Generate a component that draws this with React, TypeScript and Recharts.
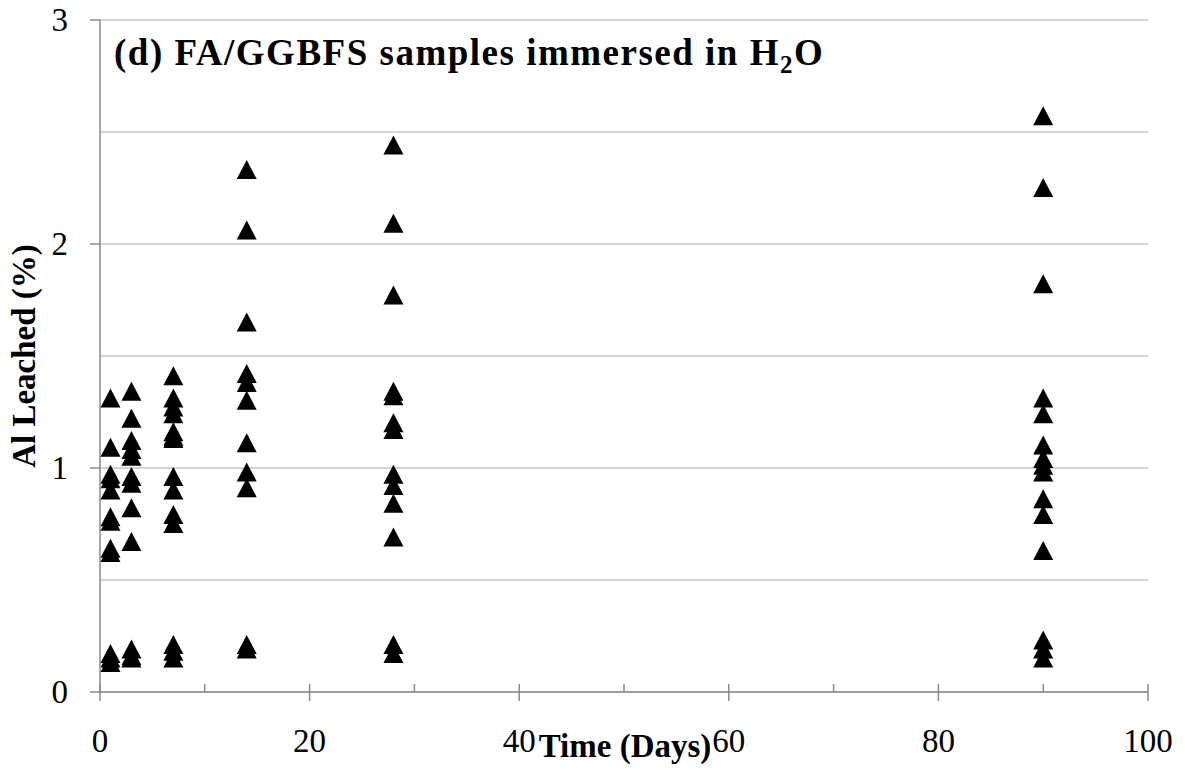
import React from 'react';
import { ScatterChart, Scatter, XAxis, YAxis, CartesianGrid } from 'recharts';

const SERIF = '"Liberation Serif", "Times New Roman", "DejaVu Serif", serif';

// sampling times (days)
const days = [1, 3, 7, 14, 28, 90];

// Al leached (%), one list per sampling time
const day1 = [1.31, 1.09, 0.97, 0.95, 0.9, 0.78, 0.76, 0.64, 0.62, 0.17, 0.15, 0.13];
const day3 = [1.34, 1.22, 1.12, 1.08, 1.05, 0.96, 0.93, 0.82, 0.67, 0.19, 0.16, 0.15];
const day7 = [1.41, 1.31, 1.27, 1.24, 1.16, 1.14, 1.13, 0.96, 0.9, 0.79, 0.75, 0.21, 0.18, 0.15];
const day14 = [2.33, 2.06, 1.65, 1.42, 1.38, 1.3, 1.11, 0.98, 0.91, 0.21, 0.19];
const day28 = [2.44, 2.09, 1.77, 1.34, 1.32, 1.2, 1.17, 0.97, 0.92, 0.84, 0.69, 0.21, 0.17];
const day90 = [2.57, 2.25, 1.82, 1.31, 1.24, 1.1, 1.04, 1.01, 0.98, 0.86, 0.79, 0.63, 0.23, 0.19, 0.15];

const leached = [day1, day3, day7, day14, day28, day90];

const xTicks = [0, 10, 20, 30, 40, 50, 60, 70, 80, 90, 100];
const yTicks = [0, 0.5, 1, 1.5, 2, 2.5, 3];

const points = days.flatMap((d, i) => leached[i].map((v) => ({ day: d, al: v })));

const txt = { fontFamily: SERIF, fill: '#000' };

const Triangle = (props: any) => {
  const { cx, cy } = props;
  if (cx == null || cy == null) return null;
  return <path d={`M${cx},${cy - 10} L${cx + 10},${cy + 9} L${cx - 10},${cy + 9} Z`} fill="#000" />;
};

// only integer values get a label and an outside tick mark
const YTick = (props: any) => {
  const { x, y, payload } = props;
  const v = payload.value;
  if (v % 1 !== 0) return <g />;
  return (
    <g>
      <line x1={x + 22} x2={x + 32} y1={y} y2={y} stroke="#8a8a8a" strokeWidth={1.5} />
      <text x={x} y={y + 11} textAnchor="end" style={{ ...txt, fontSize: 33 }}>
        {v}
      </text>
    </g>
  );
};

// major ticks cross the axis and are labelled, minor ticks sit inside
const XTick = (props: any) => {
  const { x, y, payload } = props;
  const v = payload.value;
  const axisY = y - 36;
  if (v % 20 !== 0) {
    return <line x1={x} x2={x} y1={axisY - 8} y2={axisY} stroke="#8a8a8a" strokeWidth={1.5} />;
  }
  return (
    <g>
      <line x1={x} x2={x} y1={axisY - 8} y2={axisY + 9} stroke="#8a8a8a" strokeWidth={1.5} />
      <text x={x} y={y + 24} textAnchor="middle" style={{ ...txt, fontSize: 33 }}>
        {v}
      </text>
    </g>
  );
};

const YLabel = (props: any) => {
  const vb = props.viewBox;
  const cx = vb.x + 35;
  const cy = vb.y + vb.height / 2;
  return (
    <text
      x={cx}
      y={cy}
      transform={`rotate(-90 ${cx} ${cy})`}
      textAnchor="middle"
      style={{ ...txt, fontSize: 33, fontWeight: 'bold' }}
    >
      Al Leached (%)
    </text>
  );
};

const XLabel = (props: any) => {
  const vb = props.viewBox;
  return (
    <text
      x={vb.x + vb.width / 2 + 1}
      y={vb.y + 65}
      textAnchor="middle"
      style={{ ...txt, fontSize: 33, fontWeight: 'bold' }}
    >
      Time (Days)
    </text>
  );
};

const App = () => {
  return (
    <div style={{ position: 'absolute', left: 0, top: 0, width: 1185, height: 771, background: '#fff' }}>
      <ScatterChart width={1185} height={771} margin={{ top: 20, right: 37, bottom: 0, left: 0 }}>
        <CartesianGrid vertical={false} stroke="#c4c4c4" strokeWidth={1.5} />
        <XAxis
          type="number"
          dataKey="day"
          domain={[0, 100]}
          ticks={xTicks}
          interval={0}
          height={79}
          tickSize={0}
          tickMargin={36}
          tickLine={false}
          axisLine={{ stroke: '#8a8a8a', strokeWidth: 1.5 }}
          tick={<XTick />}
          label={<XLabel />}
        />
        <YAxis
          type="number"
          dataKey="al"
          domain={[0, 3]}
          ticks={yTicks}
          interval={0}
          width={100}
          tickSize={0}
          tickMargin={32}
          tickLine={false}
          axisLine={{ stroke: '#8a8a8a', strokeWidth: 1.5 }}
          tick={<YTick />}
          label={<YLabel />}
        />
        <Scatter data={points} shape={<Triangle />} isAnimationActive={false} />
        <text x={114} y={65} style={{ ...txt, fontSize: 37, fontWeight: 'bold', letterSpacing: 1.5 }}>
          (d) FA/GGBFS samples immersed in H
          <tspan style={{ fontSize: 25 }} dy={8}>2</tspan>
          <tspan dy={-8}>O</tspan>
        </text>
      </ScatterChart>
    </div>
  );
};

export default App;
